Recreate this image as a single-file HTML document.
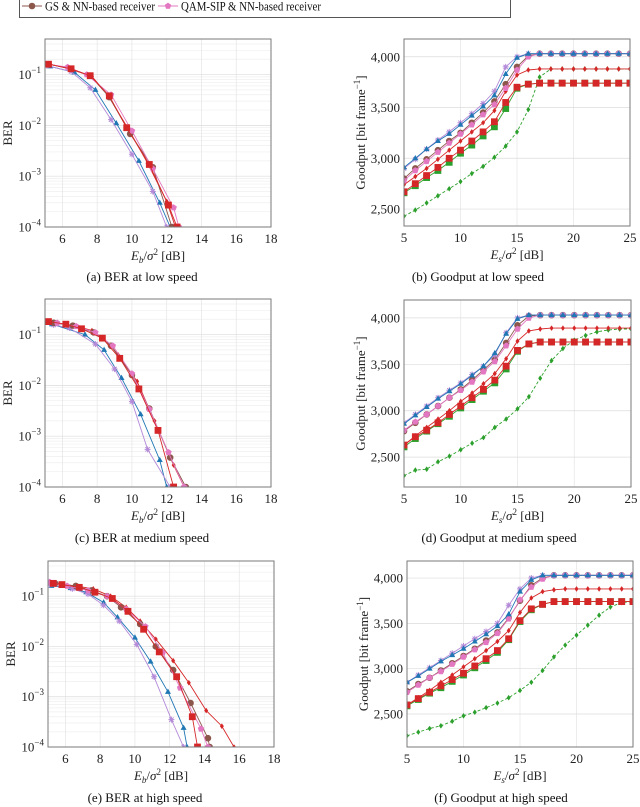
<!DOCTYPE html>
<html><head><meta charset="utf-8"><style>
html,body{margin:0;padding:0;background:#fff;}
svg{display:block;font-family:"Liberation Serif",serif;}
</style></head><body>
<svg id="fig" width="640" height="807" viewBox="0 0 640 807"></svg>
<script>
// ---------- data ----------
const gpX = [5,6,7,8,9,10,11,12,13,14,15,16,17,18,19,20,21,22,23,24,25];
const gpTicksX = [5,10,15,20,25];
const gpTicksY = [2500,3000,3500,4000];
const berTicksX = [6,8,10,12,14,16,18];
const berTicksY = [-4,-3,-2,-1];

// (b) low speed goodput
const bBlue  = [2910,3000,3090,3170,3240,3330,3420,3510,3620,3830,3990,4030,4030,4030,4030,4030,4030,4030,4030,4030,4030];
const bPurp  = [2900,2990,3090,3180,3260,3350,3440,3540,3660,3900,4000,4030,4030,4030,4030,4030,4030,4030,4030,4030,4030];
const bBrown = [2800,2900,2990,3080,3170,3250,3350,3450,3560,3730,3900,4010,4030,4030,4030,4030,4030,4030,4030,4030,4030];
const bPink  = [2780,2880,2970,3060,3150,3240,3330,3430,3530,3690,3870,4000,4030,4030,4030,4030,4030,4030,4030,4030,4030];
const bRedD  = [2740,2820,2900,2990,3080,3170,3260,3350,3470,3660,3820,3870,3880,3880,3880,3880,3880,3880,3880,3880,3880];
const bRedS  = [2670,2750,2830,2910,3000,3080,3170,3260,3360,3550,3700,3730,3740,3740,3740,3740,3740,3740,3740,3740,3740];
const bGrnS  = [2660,2730,2810,2880,2960,3050,3130,3220,3310,3490,3690,3730,3740,3740,3740,3740,3740,3740,3740,3740,3740];
const bGrnD  = [2430,2490,2560,2630,2700,2770,2850,2920,3010,3120,3260,3480,3800,3880,3880,3880,3880,3880,3880,3880,3880];
// (d) medium speed goodput
const dBlue  = [2860,2950,3040,3130,3210,3290,3380,3480,3620,3830,3990,4030,4030,4030,4030,4030,4030,4030,4030,4030,4030];
const dPurp  = [2870,2960,3050,3140,3220,3300,3390,3480,3600,3840,4000,4030,4030,4030,4030,4030,4030,4030,4030,4030,4030];
const dBrown = [2780,2870,2960,3050,3140,3230,3330,3440,3550,3730,3920,4020,4030,4030,4030,4030,4030,4030,4030,4030,4030];
const dPink  = [2790,2880,2960,3050,3140,3220,3310,3420,3530,3700,3880,4000,4030,4030,4030,4030,4030,4030,4030,4030,4030];
const dRedD  = [2630,2730,2820,2910,3000,3100,3190,3290,3400,3560,3750,3860,3880,3890,3890,3890,3890,3890,3890,3890,3890];
const dRedS  = [2630,2720,2790,2870,2960,3050,3140,3230,3330,3480,3650,3720,3740,3740,3740,3740,3740,3740,3740,3740,3740];
const dGrnS  = [2610,2700,2780,2860,2940,3030,3120,3210,3300,3450,3640,3720,3740,3740,3740,3740,3740,3740,3740,3740,3740];
const dGrnD  = [2300,2360,2370,2450,2510,2580,2650,2710,2820,2910,3020,3150,3350,3540,3670,3760,3810,3850,3870,3880,3880];
// (f) high speed goodput
const fBlue  = [2850,2920,3000,3080,3150,3220,3300,3380,3470,3600,3850,3980,4030,4030,4030,4030,4030,4030,4030,4030,4030];
const fPurp  = [2850,2930,3010,3090,3170,3250,3330,3410,3500,3700,3880,4000,4030,4030,4030,4030,4030,4030,4030,4030,4030];
const fBrown = [2750,2830,2900,2980,3060,3140,3220,3310,3400,3560,3750,3920,4000,4030,4030,4030,4030,4030,4030,4030,4030];
const fPink  = [2740,2820,2900,2970,3050,3130,3210,3290,3390,3550,3760,3900,3990,4030,4030,4030,4030,4030,4030,4030,4030];
const fRedD  = [2600,2680,2760,2850,2930,3020,3110,3200,3300,3420,3620,3780,3850,3870,3880,3880,3880,3880,3880,3880,3880];
const fRedS  = [2600,2670,2740,2810,2880,2950,3030,3110,3200,3330,3530,3660,3710,3740,3740,3740,3740,3740,3740,3740,3740];
const fGrnS  = [2590,2660,2730,2790,2860,2930,3010,3090,3180,3320,3520,3650,3710,3740,3740,3740,3740,3740,3740,3740,3740];
const fGrnD  = [2260,2300,2340,2370,2420,2480,2520,2570,2620,2680,2760,2850,2980,3130,3260,3370,3480,3590,3680,3730,3740];

// (a) low speed BER
const aBrownX=[5.2,6.5,7.6,8.7,9.9,11.2,12.3]; const aBrownY=[0.16,0.13,0.095,0.036,0.0068,0.0015,0.0001];
const aRedSX=[5.2,6.5,7.6,8.7,9.7,11,12.1,12.6]; const aRedSY=[0.16,0.13,0.095,0.038,0.009,0.0017,0.00027,0.0001];
const aRedDX=[5.3,6.4,7.7,8.6,9.8,10.9,12.0,12.5]; const aRedDY=[0.16,0.13,0.092,0.04,0.0085,0.0018,0.00032,0.0001];
const aPinkX=[5.1,6.3,7.4,8.8,10,11.2,12.4,12.7]; const aPinkY=[0.16,0.14,0.1,0.04,0.0078,0.0014,0.00024,0.0001];
const aBlueX=[5.3,6.7,7.9,9.1,10.4,11.6,12.2]; const aBlueY=[0.145,0.11,0.05,0.011,0.002,0.0003,0.0001];
const aPurpX=[5.1,6.5,7.6,8.8,10,11.2,12]; const aPurpY=[0.15,0.115,0.055,0.013,0.0027,0.0005,0.0001];
// (c) medium speed BER
const cRedSX=[5.2,6.2,7.1,8.3,9.3,10.4,11.5,12.4]; const cRedSY=[0.18,0.16,0.13,0.085,0.034,0.0085,0.0013,0.0001];
const cRedDX=[5.6,6.7,7.7,8.8,9.2,10.3,11.3,12.4,13]; const cRedDY=[0.17,0.15,0.12,0.06,0.04,0.012,0.002,0.00027,0.0001];
const cBrownX=[5.5,6.6,7.8,8.8,10,11,12.2,13.1]; const cBrownY=[0.17,0.15,0.11,0.06,0.016,0.0035,0.00038,0.0001];
const cPinkX=[5.7,6.8,7.9,8.9,10,11,12.1,13]; const cPinkY=[0.17,0.145,0.11,0.06,0.017,0.0034,0.00048,0.0001];
const cBlueX=[5.4,7.3,8.4,9.4,10.5,11.6,12]; const cBlueY=[0.16,0.1,0.05,0.014,0.0027,0.00034,0.0001];
const cPurpX=[5.5,6.4,7.9,9,10,10.9,12.2]; const cPurpY=[0.155,0.135,0.065,0.021,0.0048,0.00055,0.0001];
// (e) high speed BER
const eRedDX=[5.5,6.6,7.6,8.6,9.5,10.3,11.2,12.2,13.1,14.1,15,15.7]; const eRedDY=[0.18,0.16,0.14,0.1,0.06,0.032,0.014,0.0052,0.0019,0.00053,0.00026,0.0001];
const eRedSX=[5.3,5.8,6.8,7.7,8.7,9.6,10.5,11.4,12.4,13.3,13.6]; const eRedSY=[0.18,0.17,0.15,0.12,0.09,0.05,0.022,0.0078,0.0025,0.0004,0.0001];
const eBrownX=[5.4,6.6,7.5,8.4,9.2,10.3,11.2,12.2,13.2,14.2,14.3]; const eBrownY=[0.18,0.16,0.13,0.1,0.06,0.028,0.01,0.0034,0.00075,0.00015,0.0001];
const ePinkX=[5.1,6.1,7.3,8.4,9.5,10.6,11.6,12.6,13.8,14.2]; const ePinkY=[0.19,0.16,0.13,0.1,0.055,0.025,0.0075,0.0015,0.00023,0.0001];
const eBlueX=[5.2,6.3,7.2,8.2,9,10,10.9,11.9,12.8,13]; const eBlueY=[0.16,0.145,0.12,0.075,0.038,0.015,0.005,0.00125,0.00024,0.0001];
const ePurpX=[5.1,6.4,7.3,8.2,9.1,10.1,11.1,12.1,12.8]; const ePurpY=[0.17,0.14,0.11,0.066,0.032,0.011,0.0025,0.00035,0.0001];

// ---------- drawing ----------
const NS='http://www.w3.org/2000/svg';
const svg=document.getElementById('fig');
function mk(tag,attrs,parent){const e=document.createElementNS(NS,tag);for(const k in attrs)e.setAttribute(k,attrs[k]);(parent||svg).appendChild(e);return e;}
const C={blue:'#1f77b4',purp:'#b48ad8',brown:'#8c564b',pink:'#e377c2',red:'#d62728',green:'#2ca02c'};

function marker(g,type,x,y,col){
  let e;
  if(type==='circle'){e=mk('circle',{cx:x,cy:y,r:3.3,fill:col},g);}
  else if(type==='pent'){const r=3.4;let p=[];for(let i=0;i<5;i++){const a=-Math.PI/2+i*2*Math.PI/5;p.push((x+r*Math.cos(a)).toFixed(1)+','+(y+r*Math.sin(a)).toFixed(1));}e=mk('polygon',{points:p.join(' '),fill:col},g);}
  else if(type==='tri'){e=mk('polygon',{points:`${x},${y-3.3} ${x+3},${y+2} ${x-3},${y+2}`,fill:col},g);}
  else if(type==='star'){e=mk('path',{d:`M${x-3} ${y}H${x+3}M${x} ${y-3}V${y+3}M${x-2.2} ${y-2.2}L${x+2.2} ${y+2.2}M${x-2.2} ${y+2.2}L${x+2.2} ${y-2.2}`,stroke:col,'stroke-width':1,fill:'none'},g);}
  else if(type==='sq'){e=mk('rect',{x:x-3.4,y:y-3.4,width:6.8,height:6.8,fill:col},g);}
  else if(type==='dia'){e=mk('polygon',{points:`${x},${y-2.8} ${x+2},${y} ${x},${y+2.8} ${x-2},${y}`,fill:col},g);}
  
  
}

let clipId=0;
function plot(cfg){
  const g=mk('g',{});
  
  
  const {L,R,T,B}=cfg;
  const sx=v=>L+(v-cfg.x0)/(cfg.x1-cfg.x0)*(R-L);
  const sy=cfg.log? v=>B-(Math.log10(v)-cfg.y0)/(cfg.y1-cfg.y0)*(B-T) : v=>B-(v-cfg.y0)/(cfg.y1-cfg.y0)*(B-T);
  const grid=mk('g',{stroke:'#e4e4e4','stroke-width':0.7},g);
  
  
  if(cfg.log){
    for(let d=-4;d<=0;d++)for(let m=2;m<=9;m++){const v=m*Math.pow(10,d);const yy=sy(v);if(yy>T&&yy<B)mk('line',{x1:L,x2:R,y1:yy,y2:yy,stroke:'#efefef'},grid);}
  }
  cfg.tx.forEach(t=>{const xx=sx(t);if(xx>L+0.5&&xx<R-0.5)mk('line',{x1:xx,x2:xx,y1:T,y2:B},grid);});
  cfg.ty.forEach(t=>{const yy=cfg.log?sy(Math.pow(10,t)):sy(t);mk('line',{x1:L,x2:R,y1:yy,y2:yy,stroke:'#dcdcdc'},grid);});
  const id='clip'+(clipId++);
  const cp=mk('clipPath',{id:id},g);mk('rect',{x:L,y:T,width:R-L,height:B-T},cp);
  const sg=mk('g',{'clip-path':`url(#${id})`},g);
  cfg.series.forEach(s=>{
    const pts=s.x.map((xv,i)=>sx(xv).toFixed(1)+','+sy(s.y[i]).toFixed(1));
    const pl=mk('polyline',{points:pts.join(' '),fill:'none',stroke:s.c,'stroke-width':0.9,'stroke-dasharray':s.dash?'3,2':'none'},sg);
    
    
    s.x.forEach((xv,i)=>marker(sg,s.m,sx(xv),sy(s.y[i]),s.c));
  });
  const fr=mk('rect',{x:L,y:T,width:R-L,height:B-T,fill:'none',stroke:'#7a7a7a','stroke-width':1},g);
  
  
  cfg.tx.forEach(t=>{const e=mk('text',{x:sx(t),y:B+16,'text-anchor':'middle','font-size':13,fill:'#222'},g);e.textContent=t;
    
    });
  cfg.ty.forEach(t=>{
    const yy=cfg.log?sy(Math.pow(10,t)):sy(t);
    const e=mk('text',{x:L-4,y:yy+4.5,'text-anchor':'end','font-size':13,fill:'#222'},g);
    if(cfg.log){e.textContent='10';const s=mk('tspan',{dy:-6,'font-size':9},e);s.textContent='−'+(-t);}
    else e.textContent=t.toLocaleString('en-US');
    
    
  });
  const xl=mk('text',{x:(L+R)/2,y:B+33,'text-anchor':'middle','font-size':13,fill:'#222'},g);
  
  
  xl.innerHTML=`<tspan font-style="italic">E</tspan><tspan font-size="9" dy="3" font-style="italic">${cfg.sub}</tspan><tspan dy="-3">/</tspan><tspan font-style="italic">σ</tspan><tspan font-size="9" dy="-5">2</tspan><tspan dy="5"> [dB]</tspan>`;
  const yx=cfg.ylx, yc=(T+B)/2;
  const yl=mk('text',{x:yx,y:yc,'text-anchor':'middle','font-size':13,fill:'#222',transform:`rotate(-90 ${yx} ${yc})`},g);
  
  
  if(cfg.log) yl.textContent='BER'; else yl.innerHTML='Goodput [bit frame<tspan font-size="9" dy="-5">−1</tspan><tspan dy="5">]</tspan>';
  const cap=mk('text',{x:cfg.capX,y:cfg.capY,'text-anchor':'middle','font-size':13,fill:'#111'},g);
  cap.textContent=cfg.cap;
  
  
}

function gpSeries(bl,pu,br,pk,rd,rs,gs,gd){return [
 {n:'green-dashed',x:gpX,y:gd,c:C.green,m:'dia',dash:true},
 {n:'green-square',x:gpX,y:gs,c:C.green,m:'sq'},
 {n:'red-square',x:gpX,y:rs,c:C.red,m:'sq'},
 {n:'red-diamond',x:gpX,y:rd,c:C.red,m:'dia'},
 {n:'brown-circle',x:gpX,y:br,c:C.brown,m:'circle'},
 {n:'pink-pentagon',x:gpX,y:pk,c:C.pink,m:'pent'},
 {n:'purple-star',x:gpX,y:pu,c:C.purp,m:'star'},
 {n:'blue-triangle',x:gpX,y:bl,c:C.blue,m:'tri'}];}

const berBase={log:true,x0:5,x1:18,y0:-4,y1:-0.3,tx:berTicksX,ty:berTicksY,sub:'b',ylx:12};
plot(Object.assign({},berBase,{name:'ber-low-speed',L:45,R:271,T:39,B:227,cap:'(a) BER at low speed',capX:142,capY:281,series:[
 {n:'blue-triangle',x:aBlueX,y:aBlueY,c:C.blue,m:'tri'},{n:'purple-star',x:aPurpX,y:aPurpY,c:C.purp,m:'star'},
 {n:'red-diamond',x:aRedDX,y:aRedDY,c:C.red,m:'dia'},{n:'brown-circle',x:aBrownX,y:aBrownY,c:C.brown,m:'circle'},
 {n:'pink-pentagon',x:aPinkX,y:aPinkY,c:C.pink,m:'pent'},{n:'red-square',x:aRedSX,y:aRedSY,c:C.red,m:'sq'}]}));
plot(Object.assign({},berBase,{name:'ber-medium-speed',L:45,R:271,T:299,B:487,cap:'(c) BER at medium speed',capX:142,capY:542,series:[
 {n:'blue-triangle',x:cBlueX,y:cBlueY,c:C.blue,m:'tri'},{n:'purple-star',x:cPurpX,y:cPurpY,c:C.purp,m:'star'},
 {n:'red-diamond',x:cRedDX,y:cRedDY,c:C.red,m:'dia'},{n:'brown-circle',x:cBrownX,y:cBrownY,c:C.brown,m:'circle'},
 {n:'pink-pentagon',x:cPinkX,y:cPinkY,c:C.pink,m:'pent'},{n:'red-square',x:cRedSX,y:cRedSY,c:C.red,m:'sq'}]}));
plot(Object.assign({},berBase,{name:'ber-high-speed',L:48,R:274,T:561,B:747,ylx:15,cap:'(e) BER at high speed',capX:145,capY:802,series:[
 {n:'blue-triangle',x:eBlueX,y:eBlueY,c:C.blue,m:'tri'},{n:'purple-star',x:ePurpX,y:ePurpY,c:C.purp,m:'star'},
 {n:'red-diamond',x:eRedDX,y:eRedDY,c:C.red,m:'dia'},{n:'brown-circle',x:eBrownX,y:eBrownY,c:C.brown,m:'circle'},
 {n:'pink-pentagon',x:ePinkX,y:ePinkY,c:C.pink,m:'pent'},{n:'red-square',x:eRedSX,y:eRedSY,c:C.red,m:'sq'}]}));

const gpBase={log:false,x0:5,x1:25,tx:gpTicksX,ty:gpTicksY,sub:'s',ylx:365};
plot(Object.assign({},gpBase,{name:'goodput-low-speed',L:404,R:630,T:39,B:226,y0:2333,y1:4175,cap:'(b) Goodput at low speed',capX:478,capY:281,
 series:gpSeries(bBlue,bPurp,bBrown,bPink,bRedD,bRedS,bGrnS,bGrnD)}));
plot(Object.assign({},gpBase,{name:'goodput-medium-speed',L:404,R:631,T:300,B:487,y0:2178,y1:4193,cap:'(d) Goodput at medium speed',capX:499,capY:542,
 series:gpSeries(dBlue,dPurp,dBrown,dPink,dRedD,dRedS,dGrnS,dGrnD)}));
plot(Object.assign({},gpBase,{name:'goodput-high-speed',L:407,R:633,T:561,B:747,y0:2136,y1:4188,ylx:368,cap:'(f) Goodput at high speed',capX:501,capY:802,
 series:gpSeries(fBlue,fPurp,fBrown,fPink,fRedD,fRedS,fGrnS,fGrnD)}));

// legend
const lg=mk('g',{});


mk('rect',{x:19.5,y:-3,width:491,height:20.5,fill:'#fff',stroke:'#555','stroke-width':1},lg);
function legEntry(x0,col,type,label,nm,w){
  const eg=mk('g',{},lg);
  
  
  mk('line',{x1:x0,x2:x0+20,y1:6,y2:6,stroke:col,'stroke-width':1},eg);
  marker(eg,type,x0+10,6,col);
  const t=mk('text',{x:x0+23,y:10.5,'font-size':12.5,fill:'#111',textLength:w,lengthAdjust:'spacingAndGlyphs'},eg);t.textContent=label;
}
legEntry(22,C.brown,'circle','GS & NN-based receiver','legend-entry-gs-nn',110);
legEntry(158,C.pink,'pent','QAM-SIP & NN-based receiver','legend-entry-qamsip-nn',140);
</script>
</body></html>
